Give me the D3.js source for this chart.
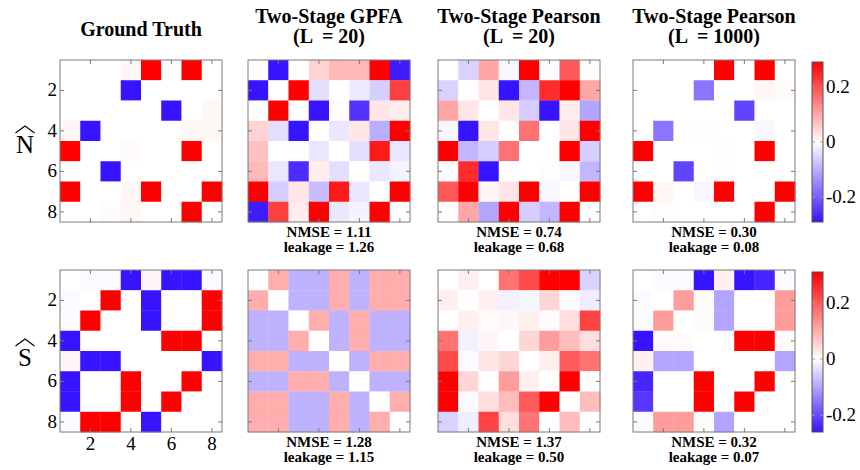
<!DOCTYPE html>
<html><head><meta charset="utf-8">
<script src="https://cdn.jsdelivr.net/npm/d3@7"></script>
<style>
body{margin:0;background:#fff;}
</style></head>
<body><svg id="c" width="860" height="470" font-family="'Liberation Serif', 'Times New Roman', Times, serif"></svg>
<script>
// ---- data ----
const titles = [["Ground Truth"], ["Two-Stage GPFA", "(L  = 20)"], ["Two-Stage Pearson", "(L  = 20)"], ["Two-Stage Pearson", "(L  = 1000)"]];
const rowLabels = ["N", "S"];
const tickVals = [2, 4, 6, 8];
const cbTicks = [0.2, 0, -0.2];
const nmseN = [null, "1.11", "0.74", "0.30"];
const leakN = [null, "1.26", "0.68", "0.08"];
const nmseS = [null, "1.28", "1.37", "0.32"];
const leakS = [null, "1.15", "0.50", "0.07"];
const domainN = [-0.29, 0, 0.29];
const domainS = [-0.26, 0, 0.31];

const gtN = [
 [0,0,0,0.01,0.3,0,0.3,0],
 [0,0,0,-0.3,0,0,0,0],
 [0,0,0,0,0,-0.3,0,0.01],
 [0.01,-0.3,0,0,0,0,0.01,0.01],
 [0.3,0,0,0.005,0,0,0.3,0],
 [0,0,-0.3,0,0,0,0,0],
 [0.3,0,0,0.01,0.3,0,0,0.3],
 [0,0,0.005,0.01,0,0,0.3,0]];
const gpfaN = [
 [0,-0.3,0,0.05,0.08,0.08,0.3,-0.28],
 [-0.3,0,0.3,-0.04,0,-0.025,-0.06,0.22],
 [0,0.3,0,-0.3,0.003,-0.25,0.03,0.02],
 [0.05,-0.04,-0.3,0,-0.03,0.03,-0.1,0.3],
 [0.07,0,0.003,-0.03,0,-0.04,0.26,-0.03],
 [0.08,-0.03,-0.26,0.02,-0.04,0,-0.03,-0.015],
 [0.3,-0.06,0.03,-0.08,0.26,-0.03,0,0.3],
 [-0.28,0.22,0.02,0.3,-0.03,-0.015,0.3,0]];
const p20N = [
 [0,-0.055,0.1,-0.01,0.3,-0.005,0.19,0.003],
 [-0.055,0,0.03,-0.3,-0.09,0.24,0.3,0.1],
 [0.1,0.03,0,0.03,-0.06,-0.3,0.02,-0.11],
 [-0.01,-0.3,0.03,0,0.16,0,0.03,0.3],
 [0.3,-0.09,-0.06,0.16,0,0,0.3,-0.06],
 [-0.003,0.24,-0.3,0,0,-0.003,-0.01,-0.09],
 [0.19,0.3,0.01,0.03,0.3,-0.01,0,0.3],
 [0.003,0.1,-0.11,0.3,-0.06,-0.09,0.3,0]];
const p1000N = [
 [0,0,0,0,0.3,0,0.3,0],
 [0,0,0,-0.17,0,0,0.01,0.005],
 [0,0,0,0,0,-0.23,0,0],
 [0,-0.17,0,0.003,0,0,-0.01,0],
 [0.33,0,0,0,0.003,0,0.3,0],
 [0,0,-0.23,0,-0.003,0,0,0],
 [0.3,0.01,0,-0.01,0.3,0,0,0.3],
 [0,0.003,0,0,0,0,0.3,0]];
const gtS = [
 [0,-0.005,-0.005,-0.3,0.01,-0.3,-0.3,-0.005],
 [-0.005,0,0.32,0,-0.3,0,0,0.32],
 [-0.005,0.32,0,0,-0.3,0,0,0.32],
 [-0.3,0,0,0,0,0.32,0.32,0],
 [0.01,-0.3,-0.3,0,0,0,0,-0.3],
 [-0.3,0,0,0.32,0,0,0.32,0],
 [-0.3,0,0,0.32,0,0.32,0,0],
 [-0.005,0.32,0.32,0,-0.3,0,0,0]];
const gpfaS = [
 [0,0.1,-0.085,-0.085,0.1,-0.085,0.1,0.1],
 [0.1,0,-0.085,-0.085,0.1,-0.085,0.1,0.1],
 [-0.085,-0.085,0,0.1,-0.085,0.1,-0.085,-0.085],
 [-0.085,-0.085,0.1,0,-0.085,0.1,-0.085,-0.085],
 [0.1,0.1,-0.085,-0.085,0,-0.085,0.1,0.1],
 [-0.085,-0.085,0.1,0.1,-0.085,0,-0.085,-0.085],
 [0.1,0.1,-0.085,-0.085,0.1,-0.085,0,0.1],
 [0.1,0.1,-0.085,-0.085,0.1,-0.085,0.1,0]];
const p20S = [
 [0,0.02,0,0.17,0.22,0.32,0.32,-0.05],
 [0.02,0,0.02,-0.015,-0.01,0.05,-0.005,-0.02],
 [0,0.02,0.005,0.01,0.02,0.005,0.04,0.23],
 [0.17,-0.015,0.01,0,0.05,0.12,0.08,0.04],
 [0.22,-0.005,0.03,0.05,0,0.02,0.2,0.17],
 [0.32,0.05,0.003,0.12,0.02,0,0.32,0],
 [0.32,-0.005,0.04,0.08,0.2,0.32,0,0.08],
 [-0.05,-0.02,0.23,0.04,0.17,0,0.08,0]];
const p1000S = [
 [0,-0.005,-0.005,-0.27,0.02,-0.27,-0.24,-0.005],
 [-0.005,0,0.12,0.005,-0.1,0,0,0.12],
 [-0.005,0.12,0,0.005,-0.1,0,0,0.12],
 [-0.27,0.005,0.005,0,0,0.32,0.32,0.005],
 [0.02,-0.1,-0.1,0,0,0,0,-0.1],
 [-0.24,0,0,0.32,0,0,0.32,0],
 [-0.22,0,0,0.32,0,0.32,0,0],
 [-0.005,0.12,0.12,0.005,-0.1,0,0,0]];

const rowsData = [
  {mats:[gtN,gpfaN,p20N,p1000N], nmse:nmseN, leak:leakN, domain:domainN, label:rowLabels[0]},
  {mats:[gtS,gpfaS,p20S,p1000S], nmse:nmseS, leak:leakS, domain:domainS, label:rowLabels[1]}
];

// ---- layout ----
const svg = d3.select("#c");
const panelX = [60, 248, 438, 633];
const panelW = 162;
const rowY = [60, 270];
const panelH = 162;
const blue = "rgb(55,20,255)", red = "rgb(255,0,0)";
const axisCol = "#7a7a7a";

titles.forEach((t, i) => {
  const cx = panelX[i] + panelW / 2;
  const g = svg.append("g");
  if (t.length === 1) {
    g.append("text").attr("x", cx).attr("y", 36).attr("text-anchor","middle")
      .attr("font-size", 20).attr("font-weight","bold").text(t[0]);
  } else {
    t.forEach((line, k) => g.append("text").attr("x", cx).attr("y", 23 + k*20)
      .attr("text-anchor","middle").attr("font-size", 20).attr("font-weight","bold")
      .style("white-space","pre").text(line));
  }
});

rowsData.forEach((rd, r) => {
  const y0 = rowY[r];
  const color = d3.scaleLinear().domain(rd.domain).range([blue, "#ffffff", red]).clamp(true);
  // row label with hat
  const ly = y0 + (r === 0 ? 93 : 96);
  svg.append("text").attr("x", 25).attr("y", ly).attr("text-anchor","middle")
    .attr("font-size", 25).text(rd.label);
  svg.append("path").attr("d", `M15.5,${ly-20} L25,${ly-27} L34.5,${ly-20}`)
    .attr("fill","none").attr("stroke","#000").attr("stroke-width",1.1);

  rd.mats.forEach((m, p) => {
    const x0 = panelX[p];
    const xs = d3.scaleBand().domain(d3.range(1, 9)).range([x0, x0 + panelW]);
    const ys = d3.scaleBand().domain(d3.range(1, 9)).range([y0, y0 + panelH]);
    const g = svg.append("g");
    const cells = [];
    m.forEach((row, i) => row.forEach((v, j) => cells.push({r: i+1, c: j+1, v})));
    g.selectAll("rect.cell").data(cells).enter().append("rect")
      .attr("x", d => xs(d.c)).attr("y", d => ys(d.r))
      .attr("width", xs.bandwidth() + 0.3).attr("height", ys.bandwidth() + 0.3)
      .attr("fill", d => color(d.v));
    // frame
    g.append("rect").attr("x", x0).attr("y", y0).attr("width", panelW).attr("height", panelH)
      .attr("fill","none").attr("stroke", axisCol).attr("stroke-width", 1);
    // inward ticks
    const tl = 4;
    tickVals.forEach(t => {
      const cx = xs(t) + xs.bandwidth()/2, cy = ys(t) + ys.bandwidth()/2;
      g.append("line").attr("x1", cx).attr("x2", cx).attr("y1", y0).attr("y2", y0+tl).attr("stroke", axisCol);
      g.append("line").attr("x1", cx).attr("x2", cx).attr("y1", y0+panelH).attr("y2", y0+panelH-tl).attr("stroke", axisCol);
      g.append("line").attr("y1", cy).attr("y2", cy).attr("x1", x0).attr("x2", x0+tl).attr("stroke", axisCol);
      g.append("line").attr("y1", cy).attr("y2", cy).attr("x1", x0+panelW).attr("x2", x0+panelW-tl).attr("stroke", axisCol);
    });
    if (p === 0) {
      tickVals.forEach(t => {
        g.append("text").attr("x", x0 - 3).attr("y", ys(t) + ys.bandwidth()/2 + 6)
          .attr("text-anchor","end").attr("font-size", 19).text(t);
      });
      if (r === 1) {
        tickVals.forEach(t => {
          g.append("text").attr("x", xs(t) + xs.bandwidth()/2).attr("y", y0 + panelH + 18)
            .attr("text-anchor","middle").attr("font-size", 19).text(t);
        });
      }
    } else {
      const cx = x0 + panelW/2;
      g.append("text").attr("x", cx).attr("y", y0 + panelH + 15).attr("text-anchor","middle")
        .attr("font-size", 15).attr("font-weight","bold").text("NMSE = " + rd.nmse[p]);
      g.append("text").attr("x", cx).attr("y", y0 + panelH + 30).attr("text-anchor","middle")
        .attr("font-size", 15).attr("font-weight","bold").text("leakage = " + rd.leak[p]);
    }
  });

  // colorbar
  const cbx = 812, cbw = 11, cbTop = y0 + 2, cbBot = y0 + panelH;
  const cy = d3.scaleLinear().domain([rd.domain[0], rd.domain[2]]).range([cbBot, cbTop]);
  const gid = "grad" + r;
  const grad = svg.append("defs").append("linearGradient").attr("id", gid)
    .attr("x1","0").attr("y1","1").attr("x2","0").attr("y2","0");
  const span = rd.domain[2] - rd.domain[0];
  rd.domain.forEach((d, k) => grad.append("stop")
    .attr("offset", (d - rd.domain[0]) / span).attr("stop-color", [blue, "#ffffff", red][k]));
  svg.append("rect").attr("x", cbx).attr("y", cbTop).attr("width", cbw).attr("height", cbBot - cbTop)
    .attr("fill", `url(#${gid})`).attr("stroke", "#555").attr("stroke-width", 1);
  cbTicks.forEach(t => {
    svg.append("line").attr("x1", cbx).attr("x2", cbx + 3).attr("y1", cy(t)).attr("y2", cy(t)).attr("stroke", "#999");
    svg.append("line").attr("x1", cbx+cbw).attr("x2", cbx + cbw - 3).attr("y1", cy(t)).attr("y2", cy(t)).attr("stroke", "#999");
    svg.append("text").attr("x", cbx + cbw + 3).attr("y", cy(t) + 6).attr("font-size", 19).text(t);
  });
});
</script></body></html>
